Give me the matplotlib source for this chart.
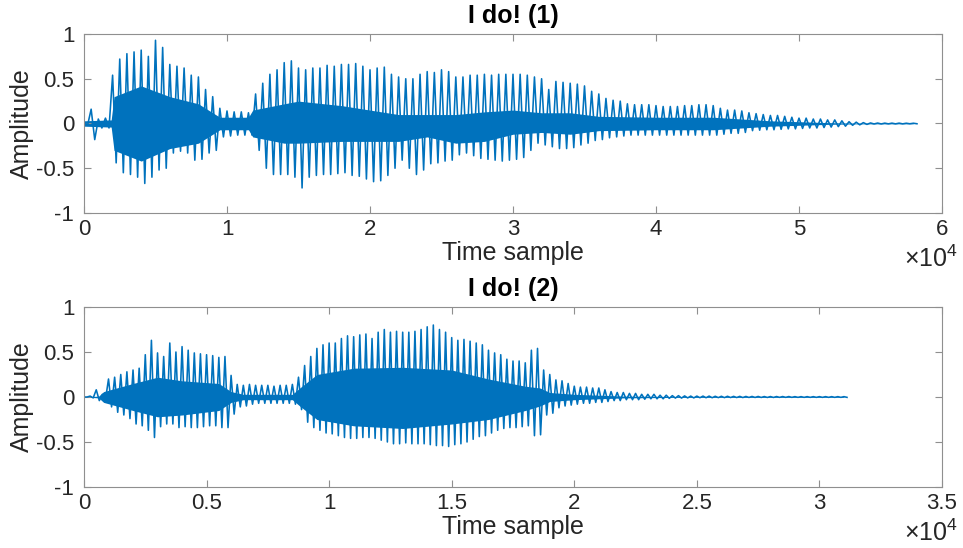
import numpy as np
import matplotlib
matplotlib.use("Agg")
import matplotlib.pyplot as plt
from matplotlib.ticker import FuncFormatter

# Envelope of "I do! (1)": peak / trough amplitude every 500 samples
step1 = 500
hi1 = [0.02, 0.16, 0.05, 0.06, 0.54, 0.72, 0.78, 0.80, 0.82, 0.75,
       0.93, 0.85, 0.66, 0.64, 0.62, 0.54, 0.52, 0.38, 0.30, 0.17,
       0.14, 0.13, 0.13, 0.12, 0.33, 0.45, 0.55, 0.60, 0.68, 0.70,
       0.62, 0.60, 0.62, 0.62, 0.65, 0.64, 0.66, 0.66, 0.67, 0.64,
       0.60, 0.62, 0.63, 0.55, 0.52, 0.50, 0.50, 0.55, 0.58, 0.57,
       0.60, 0.58, 0.52, 0.52, 0.54, 0.54, 0.55, 0.54, 0.55, 0.55,
       0.55, 0.55, 0.54, 0.52, 0.50, 0.38, 0.47, 0.46, 0.45, 0.44,
       0.42, 0.36, 0.33, 0.28, 0.26, 0.25, 0.22, 0.21, 0.21, 0.21,
       0.20, 0.19, 0.19, 0.19, 0.20, 0.20, 0.21, 0.21, 0.20, 0.17,
       0.15, 0.15, 0.14, 0.12, 0.11, 0.10, 0.09, 0.09, 0.08, 0.07,
       0.06, 0.06, 0.05, 0.05, 0.04, 0.04, 0.03, 0.02, 0.015, 0.01,
       0.006, 0.005, 0.004, 0.004, 0.004, 0.003, 0.003]
lo1 = [-0.02, -0.18, -0.05, -0.05, -0.44, -0.55, -0.57, -0.60, -0.67, -0.60,
       -0.52, -0.50, -0.33, -0.31, -0.33, -0.41, -0.40, -0.33, -0.30, -0.15,
       -0.14, -0.13, -0.13, -0.13, -0.30, -0.50, -0.57, -0.57, -0.57, -0.60,
       -0.72, -0.60, -0.58, -0.57, -0.57, -0.56, -0.55, -0.58, -0.59, -0.62,
       -0.65, -0.64, -0.58, -0.50, -0.41, -0.50, -0.57, -0.52, -0.45, -0.44,
       -0.42, -0.41, -0.35, -0.33, -0.36, -0.39, -0.40, -0.41, -0.42, -0.41,
       -0.40, -0.38, -0.30, -0.22, -0.24, -0.26, -0.28, -0.28, -0.27, -0.24,
       -0.22, -0.19, -0.18, -0.16, -0.15, -0.14, -0.13, -0.13, -0.13, -0.13,
       -0.13, -0.13, -0.13, -0.13, -0.13, -0.13, -0.13, -0.13, -0.13, -0.12,
       -0.11, -0.11, -0.10, -0.08, -0.075, -0.07, -0.07, -0.065, -0.06, -0.06,
       -0.055, -0.05, -0.05, -0.045, -0.04, -0.035, -0.03, -0.02, -0.015, -0.01,
       -0.005, -0.005, -0.004, -0.004, -0.004, -0.003, -0.003]
# dense inner band of recording 1 (sample, upper, lower)
core1_t = [0, 1900, 2100, 4000, 6000, 8000, 9000, 9500, 11500, 11800,
           14000, 15000, 18000, 20000, 22000, 24000, 26000, 28000, 30000, 32000,
           34000, 36000, 40000, 44000, 46000, 48000, 50000, 52000, 54000, 58000]
core1_hi = [0.03, 0.04, 0.30, 0.42, 0.30, 0.22, 0.12, 0.07, 0.07, 0.15,
            0.22, 0.25, 0.20, 0.15, 0.10, 0.10, 0.10, 0.13, 0.15, 0.12,
            0.12, 0.08, 0.07, 0.07, 0.05, 0.03, 0.02, 0.01, 0.004, 0.003]
core1_lo = [-0.03, -0.04, -0.30, -0.42, -0.28, -0.22, -0.12, -0.07, -0.07, -0.15,
            -0.22, -0.22, -0.20, -0.20, -0.20, -0.15, -0.22, -0.20, -0.12, -0.10,
            -0.12, -0.08, -0.07, -0.07, -0.05, -0.03, -0.02, -0.01, -0.004, -0.003]

# Envelope of "I do! (2)": every 250 samples
step2 = 250
hi2 = [0.0, 0.01, 0.08, 0.03, 0.20, 0.22, 0.25, 0.28, 0.30, 0.32,
       0.47, 0.63, 0.49, 0.45, 0.60, 0.50, 0.56, 0.52, 0.49, 0.48,
       0.47, 0.46, 0.44, 0.45, 0.24, 0.14, 0.13, 0.14, 0.13, 0.13,
       0.13, 0.12, 0.13, 0.13, 0.14, 0.22, 0.35, 0.45, 0.54, 0.58,
       0.60, 0.60, 0.65, 0.68, 0.67, 0.69, 0.70, 0.65, 0.72, 0.75,
       0.72, 0.73, 0.72, 0.72, 0.73, 0.75, 0.78, 0.80, 0.75, 0.72,
       0.66, 0.63, 0.64, 0.62, 0.60, 0.58, 0.52, 0.49, 0.47, 0.42,
       0.40, 0.40, 0.38, 0.52, 0.54, 0.30, 0.25, 0.19, 0.18, 0.15,
       0.12, 0.11, 0.11, 0.10, 0.10, 0.08, 0.06, 0.05, 0.05, 0.04,
       0.04, 0.03, 0.03, 0.03, 0.02, 0.02, 0.015, 0.015, 0.012, 0.01,
       0.01, 0.01, 0.01, 0.008, 0.008, 0.008, 0.007, 0.007, 0.006, 0.006,
       0.006, 0.005, 0.005, 0.005, 0.005, 0.005, 0.004, 0.004, 0.004, 0.004,
       0.004, 0.004, 0.004, 0.004, 0.004]
lo2 = [0.0, -0.01, -0.04, -0.03, -0.11, -0.17, -0.20, -0.24, -0.30, -0.32,
       -0.37, -0.45, -0.33, -0.30, -0.30, -0.34, -0.33, -0.34, -0.34, -0.33,
       -0.32, -0.32, -0.34, -0.34, -0.19, -0.11, -0.10, -0.08, -0.07, -0.07,
       -0.07, -0.07, -0.07, -0.07, -0.08, -0.14, -0.28, -0.34, -0.37, -0.40,
       -0.41, -0.43, -0.45, -0.46, -0.46, -0.45, -0.45, -0.46, -0.48, -0.50,
       -0.52, -0.52, -0.51, -0.52, -0.52, -0.52, -0.53, -0.54, -0.54, -0.55,
       -0.53, -0.52, -0.50, -0.47, -0.44, -0.43, -0.40, -0.37, -0.35, -0.34,
       -0.34, -0.33, -0.32, -0.43, -0.42, -0.20, -0.18, -0.12, -0.10, -0.09,
       -0.08, -0.07, -0.07, -0.06, -0.06, -0.05, -0.04, -0.04, -0.03, -0.03,
       -0.03, -0.025, -0.02, -0.02, -0.02, -0.015, -0.012, -0.012, -0.01, -0.01,
       -0.008, -0.008, -0.008, -0.007, -0.007, -0.006, -0.006, -0.006, -0.005, -0.005,
       -0.005, -0.005, -0.005, -0.004, -0.004, -0.004, -0.004, -0.004, -0.004, -0.004,
       -0.004, -0.004, -0.004, -0.004, -0.004]
core2_t = [0, 600, 800, 2000, 3000, 4000, 5500, 6000, 6500, 8500,
           8800, 9500, 11000, 13000, 15000, 16500, 18000, 18600, 19000, 20000,
           22000, 24000, 31000]
core2_hi = [0.0, 0.01, 0.06, 0.15, 0.22, 0.18, 0.15, 0.06, 0.03, 0.03,
            0.10, 0.25, 0.32, 0.33, 0.30, 0.20, 0.12, 0.10, 0.05, 0.03,
            0.01, 0.005, 0.004]
core2_lo = [0.0, -0.01, -0.06, -0.15, -0.22, -0.20, -0.15, -0.06, -0.03, -0.03,
            -0.10, -0.25, -0.32, -0.35, -0.30, -0.25, -0.15, -0.10, -0.05, -0.03,
            -0.01, -0.005, -0.004]

titles = ["I do! (1)", "I do! (2)"]
xlims = [60000, 35000]
xticks = [np.arange(0, 60001, 10000), np.arange(0, 35001, 5000)]

BLUE = "#0072BD"
GRID = "#8f8f8f"
TXT = "#262626"

plt.rcParams["font.family"] = ["Liberation Sans", "DejaVu Sans"]
plt.rcParams["mathtext.default"] = "regular"

W, H = 963, 548
fig = plt.figure(figsize=(W / 100, H / 100), dpi=100)
ax1 = fig.add_axes([84 / W, 1 - 213 / H, 858 / W, 179 / H])
ax2 = fig.add_axes([84 / W, 1 - 487 / H, 858 / W, 180 / H])


def draw_wave(ax, step, hi, lo, core_t, core_hi, core_lo):
    t = np.arange(len(hi)) * step
    x = np.column_stack([t, t + step / 2]).ravel()
    y = np.column_stack([hi, lo]).ravel()
    ax.fill_between(core_t, core_lo, core_hi, color=BLUE, lw=0)
    ax.plot(x, y, color=BLUE, lw=1.15)


draw_wave(ax1, step1, hi1, lo1, core1_t, core1_hi, core1_lo)
draw_wave(ax2, step2, hi2, lo2, core2_t, core2_hi, core2_lo)

for ax, title, xl, xt in zip([ax1, ax2], titles, xlims, xticks):
    ax.set_xlim(0, xl)
    ax.set_ylim(-1, 1)
    ax.set_xticks(xt)
    ax.set_yticks([-1, -0.5, 0, 0.5, 1])
    ax.xaxis.set_major_formatter(FuncFormatter(lambda v, p: "%g" % (v / 1e4)))
    ax.yaxis.set_major_formatter(FuncFormatter(lambda v, p: "%g" % v))
    ax.tick_params(direction="in", top=True, right=True, length=5,
                   width=0.8, color=GRID, labelsize=16, labelcolor=TXT)
    ax.tick_params(axis="x", pad=4)
    ax.tick_params(axis="y", pad=7)
    for s in ax.spines.values():
        s.set_color(GRID)
        s.set_linewidth(0.8)
    h = ax.get_position().height * H
    ax.set_xlabel("Time sample", fontsize=18, color=TXT)
    ax.xaxis.set_label_coords(0.5, -40 / h)
    ax.xaxis.label.set_va("center")
    ax.set_ylabel("Amplitude", fontsize=18, color=TXT)
    ax.yaxis.set_label_coords(-62 / 858, 0.5)
    ax.yaxis.label.set_va("center")
    ax.text(0.5, 1 + 18 / h, title, transform=ax.transAxes, ha="center",
            va="center", fontsize=18, fontweight="bold", color="black")
    ax.text(1 + 16 / 858, -46 / h, r"$\times10^{4}$", transform=ax.transAxes,
            ha="right", va="center", fontsize=18, color=TXT)

fig.savefig("out.png", dpi=100)
